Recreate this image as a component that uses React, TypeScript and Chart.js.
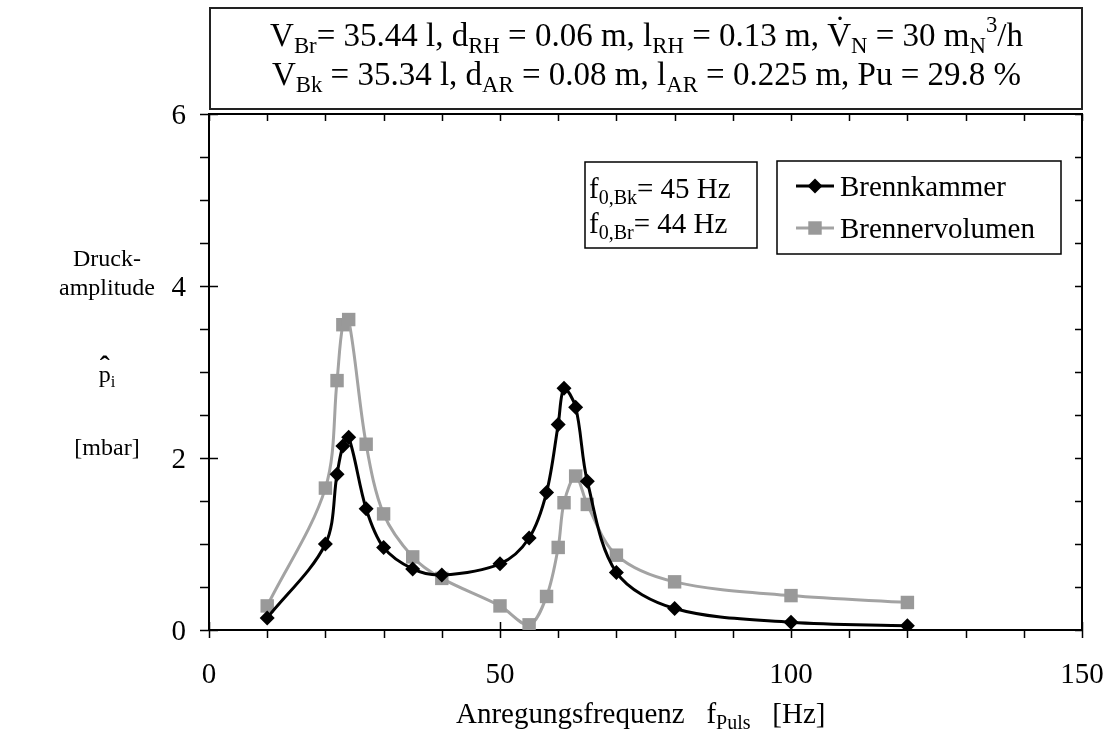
import React, { useEffect, useRef } from "react";
import { Chart, registerables } from "chart.js";

Chart.register(...registerables);

// ---- data ----
const frequencies = [10, 20, 22, 23, 24, 27, 30, 35, 40, 50, 55, 58, 60, 61, 63, 65, 70, 80, 100, 120];
const brennkammer = [0.14, 1.0, 1.81, 2.14, 2.24, 1.41, 0.96, 0.71, 0.64, 0.77, 1.07, 1.6, 2.39, 2.81, 2.59, 1.73, 0.67, 0.25, 0.09, 0.05];
const brennervolumen = [0.28, 1.65, 2.9, 3.55, 3.61, 2.16, 1.35, 0.85, 0.6, 0.28, 0.06, 0.39, 0.96, 1.48, 1.79, 1.46, 0.87, 0.56, 0.4, 0.32];
const xTickLabels = [0, 50, 100, 150];
const yTickLabels = [0, 2, 4, 6];
const seriesNames = ["Brennkammer", "Brennervolumen"];

const FONT = '"Liberation Serif", "Times New Roman", serif';
const FS = 29;
const TITLE_FS = 33;
const YTITLE_FS = 24;

type Run = { t: string; k?: "sub" | "sup" | "dot" | "hat" };

function fontOf(size: number) {
  return `${size}px ${FONT}`;
}

const SUB = 0.69;

function runsWidth(ctx: CanvasRenderingContext2D, runs: Run[], size: number) {
  let w = 0;
  for (const r of runs) {
    ctx.font = fontOf(r.k === "sub" || r.k === "sup" ? size * SUB : size);
    w += ctx.measureText(r.t).width;
  }
  return w;
}

function drawRuns(
  ctx: CanvasRenderingContext2D,
  runs: Run[],
  x: number,
  y: number,
  size: number,
  align: "left" | "center"
) {
  ctx.save();
  ctx.textAlign = "left";
  ctx.textBaseline = "alphabetic";
  ctx.fillStyle = "#000";
  const w = runsWidth(ctx, runs, size);
  let cx = align === "center" ? x - w / 2 : x;
  for (const r of runs) {
    if (r.k === "sub" || r.k === "sup") {
      const s = size * SUB;
      ctx.font = fontOf(s);
      const dy = r.k === "sub" ? size * 0.2 : -size * 0.42;
      ctx.fillText(r.t, cx, y + dy);
      cx += ctx.measureText(r.t).width;
    } else {
      ctx.font = fontOf(size);
      ctx.fillText(r.t, cx, y);
      const tw = ctx.measureText(r.t).width;
      if (r.k === "dot") {
        ctx.textAlign = "center";
        ctx.fillText("\u02D9", cx + tw / 2 + 1, y - size * 0.2);
        ctx.textAlign = "left";
      } else if (r.k === "hat") {
        ctx.textAlign = "center";
        ctx.font = `bold ${size * 1.25}px ${FONT}`;
        ctx.fillText("\u02C6", cx + tw / 2, y - size * 0.24);
        ctx.font = fontOf(size);
        ctx.textAlign = "left";
      }
      cx += tw;
    }
  }
  ctx.restore();
}

const titleLine1: Run[] = [
  { t: "V" }, { t: "Br", k: "sub" }, { t: "= 35.44 l, d" }, { t: "RH", k: "sub" },
  { t: " = 0.06 m, l" }, { t: "RH", k: "sub" }, { t: " = 0.13 m, " },
  { t: "V", k: "dot" }, { t: "N", k: "sub" }, { t: " = 30 m" }, { t: "N", k: "sub" },
  { t: "3", k: "sup" }, { t: "/h" },
];
const titleLine2: Run[] = [
  { t: "V" }, { t: "Bk", k: "sub" }, { t: " = 35.34 l, d" }, { t: "AR", k: "sub" },
  { t: " = 0.08 m, l" }, { t: "AR", k: "sub" }, { t: " = 0.225 m, Pu = 29.8 %" },
];
const noteLine1: Run[] = [{ t: "f" }, { t: "0,Bk", k: "sub" }, { t: "= 45 Hz" }];
const noteLine2: Run[] = [{ t: "f" }, { t: "0,Br", k: "sub" }, { t: "= 44 Hz" }];
const xTitle: Run[] = [{ t: "Anregungsfrequenz   f" }, { t: "Puls", k: "sub" }, { t: "   [Hz]" }];
const yTitle: Run[][] = [[{ t: "Druck-" }], [{ t: "amplitude" }], [{ t: "p", k: "hat" }, { t: "i", k: "sub" }], [{ t: "[mbar]" }]];

function drawPointShape(ctx: CanvasRenderingContext2D, style: string, r: number, x: number, y: number, color: string) {
  ctx.save();
  ctx.fillStyle = color;
  ctx.beginPath();
  if (style === "rectRot") {
    ctx.moveTo(x - r, y);
    ctx.lineTo(x, y - r);
    ctx.lineTo(x + r, y);
    ctx.lineTo(x, y + r);
    ctx.closePath();
  } else {
    const s = Math.SQRT1_2 * r;
    ctx.rect(x - s, y - s, 2 * s, 2 * s);
  }
  ctx.fill();
  ctx.restore();
}

const decorPlugin = {
  id: "decor",
  beforeDatasetsDraw(chart: any) {
    const ctx: CanvasRenderingContext2D = chart.ctx;
    const { left, right, top, bottom } = chart.chartArea;
    const xs = chart.scales.x;
    const ys = chart.scales.y;
    ctx.save();
    ctx.strokeStyle = "#000";
    ctx.lineWidth = 2;
    ctx.strokeRect(left, top, right - left, bottom - top);
    ctx.lineWidth = 1.5;
    ctx.beginPath();
    for (let v = 0; v <= 150; v += 10) {
      const px = Math.round(xs.getPixelForValue(v)) + 0.5;
      const major = v % 50 === 0;
      ctx.moveTo(px, major ? bottom - 8 : bottom);
      ctx.lineTo(px, bottom + 8);
      ctx.moveTo(px, top);
      ctx.lineTo(px, top + 7);
    }
    for (let v = 0; v <= 6.001; v += 0.5) {
      const py = Math.round(ys.getPixelForValue(v)) + 0.5;
      const major = Math.abs(v % 2) < 1e-6;
      ctx.moveTo(left - 9, py);
      ctx.lineTo(major ? left + 9 : left, py);
      ctx.moveTo(right, py);
      ctx.lineTo(right - 7, py);
    }
    ctx.stroke();
    ctx.restore();
  },
  afterDraw(chart: any) {
    const ctx: CanvasRenderingContext2D = chart.ctx;
    const { left, right } = chart.chartArea;
    const xs = chart.scales.x;
    const ys = chart.scales.y;
    ctx.save();
    // tick labels
    ctx.fillStyle = "#000";
    ctx.font = fontOf(FS);
    ctx.textAlign = "center";
    ctx.textBaseline = "alphabetic";
    for (const v of xTickLabels) ctx.fillText(String(v), xs.getPixelForValue(v), 683);
    ctx.textAlign = "right";
    for (const v of yTickLabels) ctx.fillText(String(v), 186, ys.getPixelForValue(v) + 10);

    // title box
    ctx.strokeStyle = "#222";
    ctx.lineWidth = 2;
    ctx.strokeRect(left + 1, 8, right - left - 1, 101);
    drawRuns(ctx, titleLine1, (left + right) / 2 + 1, 46, TITLE_FS, "center");
    drawRuns(ctx, titleLine2, (left + right) / 2 + 1, 85, TITLE_FS, "center");

    // note box
    ctx.strokeStyle = "#000";
    ctx.lineWidth = 1.5;
    ctx.strokeRect(585, 162, 172, 86);
    drawRuns(ctx, noteLine1, 589, 198, FS, "left");
    drawRuns(ctx, noteLine2, 589, 233, FS, "left");

    // legend
    ctx.strokeRect(777, 161, 284, 93);
    const ds = chart.data.datasets;
    const legendY = [186, 228];
    for (let i = 0; i < ds.length; i++) {
      const y = legendY[i];
      ctx.save();
      ctx.strokeStyle = ds[i].borderColor;
      ctx.lineWidth = ds[i].borderWidth;
      ctx.beginPath();
      ctx.moveTo(796, y);
      ctx.lineTo(834, y);
      ctx.stroke();
      ctx.restore();
      drawPointShape(ctx, ds[i].pointStyle, ds[i].pointRadius, 815, y, ds[i].pointBackgroundColor);
      ctx.fillStyle = "#000";
      ctx.font = fontOf(FS);
      ctx.textAlign = "left";
      ctx.fillText(ds[i].label, 840, y + 10);
    }

    // axis titles
    drawRuns(ctx, xTitle, 456, 723, FS, "left");
    const yBase = [266, 295, 382, 455];
    yTitle.forEach((runs, i) => drawRuns(ctx, runs, 107, yBase[i], YTITLE_FS, "center"));
    ctx.restore();
  },
};

export default function App() {
  const ref = useRef<HTMLCanvasElement | null>(null);
  useEffect(() => {
    document.body.style.margin = "0";
    const canvas = ref.current!;
    const chart = new Chart(canvas, {
      type: "line",
      data: {
        datasets: [
          {
            label: seriesNames[0],
            data: frequencies.map((f, i) => ({ x: f, y: brennkammer[i] })),
            borderColor: "#000000",
            backgroundColor: "#000000",
            pointBackgroundColor: "#000000",
            pointBorderColor: "#000000",
            borderWidth: 3,
            pointStyle: "rectRot",
            pointRadius: 7.5,
            pointBorderWidth: 0,
            tension: 0.33,
            order: 0,
          },
          {
            label: seriesNames[1],
            data: frequencies.map((f, i) => ({ x: f, y: brennervolumen[i] })),
            borderColor: "#a3a3a3",
            backgroundColor: "#999999",
            pointBackgroundColor: "#999999",
            pointBorderColor: "#999999",
            borderWidth: 3,
            pointStyle: "rect",
            pointRadius: 9.5,
            pointBorderWidth: 0,
            tension: 0.33,
            order: 1,
          },
        ],
      },
      options: {
        responsive: false,
        animation: false,
        devicePixelRatio: 1,
        layout: { padding: { left: 0, right: 31, top: 114, bottom: 0 } },
        plugins: {
          legend: { display: false },
          title: { display: false },
          tooltip: { enabled: false },
        },
        scales: {
          x: {
            type: "linear",
            min: 0,
            max: 150,
            ticks: { display: false, stepSize: 10 },
            grid: { display: false, drawTicks: false },
            border: { display: false },
            afterFit: (s: any) => {
              s.height = 112;
            },
          },
          y: {
            type: "linear",
            min: 0,
            max: 6,
            ticks: { display: false, stepSize: 0.5 },
            grid: { display: false, drawTicks: false },
            border: { display: false },
            afterFit: (s: any) => {
              s.width = 209;
            },
          },
        },
      } as any,
      plugins: [decorPlugin],
    });
    return () => chart.destroy();
  }, []);
  return <canvas ref={ref} width={1113} height={742} style={{ display: "block" }} />;
}
